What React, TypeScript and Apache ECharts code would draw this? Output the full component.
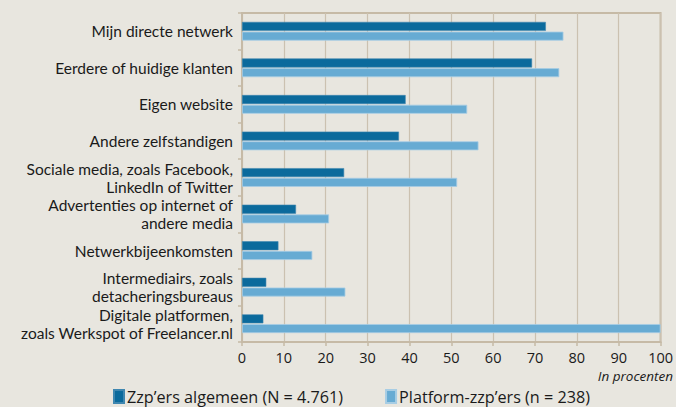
import React, { useEffect, useRef } from "react";
import * as echarts from "echarts";

const categories = [
  "Mijn directe netwerk",
  "Eerdere of huidige klanten",
  "Eigen website",
  "Andere zelfstandigen",
  "Sociale media, zoals Facebook,\nLinkedIn of Twitter",
  "Advertenties op internet of\nandere media",
  "Netwerkbijeenkomsten",
  "Intermediairs, zoals\ndetacheringsbureaus",
  "Digitale platformen,\nzoals Werkspot of Freelancer.nl",
];
const zzpAlgemeen = [72.6, 69.3, 39.1, 37.5, 24.4, 12.9, 8.7, 5.8, 5.1];
const platformZzp = [76.8, 75.8, 53.8, 56.5, 51.4, 20.8, 16.8, 24.7, 100];
const seriesNames = ["Zzp\u2019ers algemeen (N = 4.761)", "Platform-zzp\u2019ers (n = 238)"];
const axisTitle = "In procenten";

const FONT = "'Open Sans', 'Noto Sans', sans-serif";
const LABEL_FONT = "Lato, 'Open Sans', sans-serif";

export default function App() {
  const ref = useRef<HTMLDivElement>(null);
  useEffect(() => {
    if (!ref.current) return;
    const chart = echarts.init(ref.current, null, { renderer: "svg" });
    chart.setOption({
      animation: false,
      backgroundColor: "#e8e6df",
      textStyle: { fontFamily: FONT },
      grid: {
        left: 242,
        right: 14,
        top: 13,
        bottom: 65,
        show: true,
        borderColor: "#c6baa6",
        borderWidth: 2,
        backgroundColor: "transparent",
      },
      legend: {
        left: 113,
        top: 388,
        padding: 0,
        itemWidth: 10,
        itemHeight: 13,
        itemGap: 42,
        icon: "rect",
        textStyle: {
          fontSize: 16.2,
          lineHeight: 17,
          color: "#1a1a1a",
          fontFamily: FONT,
          padding: [0, 0, 0, -2],
        },
        data: seriesNames,
      },
      graphic: [
        {
          type: "text",
          right: 3,
          top: 369,
          style: {
            text: axisTitle,
            fontSize: 13.5,
            fontStyle: "italic",
            fill: "#1a1a1a",
            fontFamily: FONT,
          },
        },
      ],
      xAxis: {
        type: "value",
        min: 0,
        max: 100,
        interval: 10,
        axisLine: { show: true, lineStyle: { color: "#c6baa6", width: 2 } },
        axisTick: { show: true, length: 4, lineStyle: { color: "#c6baa6", width: 1.5 } },
        splitLine: { show: true, lineStyle: { color: "#cbc1b0", width: 1.2 } },
        axisLabel: { fontSize: 14.5, color: "#1a1a1a", margin: 8, fontFamily: FONT },
      },
      yAxis: {
        type: "category",
        data: categories,
        inverse: true,
        axisLine: { show: true, lineStyle: { color: "#c6baa6", width: 2 } },
        axisTick: { show: true, length: 4, lineStyle: { color: "#c6baa6", width: 1.5 } },
        axisLabel: {
          fontSize: 15.5,
          color: "#1a1a1a",
          margin: 9,
          lineHeight: 18,
          fontFamily: LABEL_FONT,
        },
      },
      series: [
        {
          name: seriesNames[0],
          type: "bar",
          data: zzpAlgemeen,
          barWidth: 9,
          barGap: "8%",
          itemStyle: { color: "#0b6a9c", borderColor: "#3f87b0", borderWidth: 0.6 },
        },
        {
          name: seriesNames[1],
          type: "bar",
          data: platformZzp,
          barWidth: 9,
          itemStyle: { color: "#67abd3", borderColor: "#a7cde4", borderWidth: 0.8 },
        },
      ],
    });
    return () => chart.dispose();
  }, []);
  return <div ref={ref} style={{ width: 676, height: 407, position: "absolute", left: 0, top: 0 }} />;
}
